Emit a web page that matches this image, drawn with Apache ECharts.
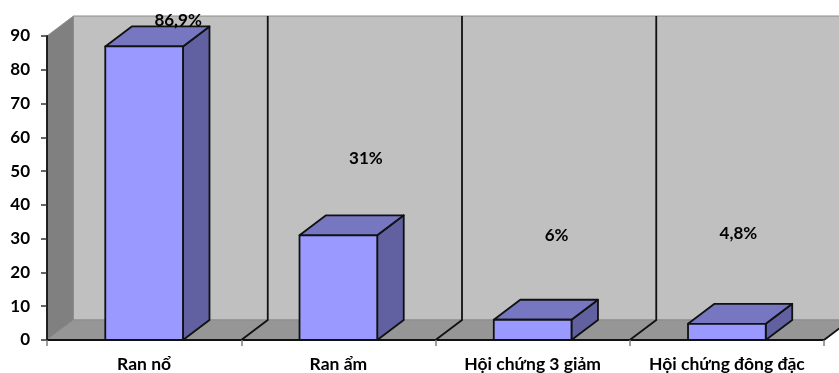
<!DOCTYPE html>
<html>
<head>
<meta charset="utf-8">
<style>
  html, body { margin: 0; padding: 0; background: #fff; }
  #chart { width: 839px; height: 373px; }
</style>
<script src="https://cdn.jsdelivr.net/npm/echarts@6/dist/echarts.min.js"></script>
</head>
<body>
<div id="chart"></div>
<script>
const categories = ['Ran nổ', 'Ran ẩm', 'Hội chứng 3 giảm', 'Hội chứng đông đặc'];
const values = [86.9, 31, 6, 4.8];
const valueLabels = ['86,9%', '31%', '6%', '4,8%'];
const yTicks = [0, 90, 10];

// fake 3D depth, in pixels
const DX = 26.5;
const DY = 20;
// where excel left each label: pixels right of the bar centre, pixels above the front top
const LABEL_OFFSET = [[34, 26], [27.5, 77], [24, 84], [11.5, 90]];

const chart = echarts.init(document.getElementById('chart'));

function backdrop(params, api) {
  const band = api.size([1, 0])[0];
  const left = api.coord([0, 0])[0] - band / 2;
  const right = left + band * categories.length;
  const y0 = api.coord([0, yTicks[0]])[1];
  const y1 = api.coord([0, yTicks[1]])[1];
  const poly = (points, fill, stroke) => ({
    type: 'polygon',
    shape: { points },
    style: { fill, stroke, lineWidth: 1 }
  });
  return {
    type: 'group',
    children: [
      poly([[left + DX, y1 - DY], [right + DX, y1 - DY], [right + DX, y0 - DY], [left + DX, y0 - DY]], '#c0c0c0', '#8c8c8c'),
      poly([[left, y1], [left + DX, y1 - DY], [left + DX, y0 - DY], [left, y0]], '#808080', '#8c8c8c'),
      poly([[left, y0], [left + DX, y0 - DY], [right + DX, y0 - DY], [right, y0]], '#969696', '#8c8c8c')
    ]
  };
}

function divider(params, api) {
  const band = api.size([1, 0])[0];
  const x = api.coord([api.value(0), 0])[0] + band / 2;
  const y0 = api.coord([0, yTicks[0]])[1];
  const y1 = api.coord([0, yTicks[1]])[1];
  return {
    type: 'polyline',
    shape: { points: [[x, y0], [x + DX, y0 - DY], [x + DX, y1 - DY]] },
    style: { fill: null, stroke: '#111', lineWidth: 1.8 }
  };
}

function bar3d(params, api) {
  const band = api.size([1, 0])[0];
  const w = band * 0.4;
  const cx = api.coord([api.value(0), 0])[0];
  const l = cx - w / 2;
  const r = cx + w / 2;
  const y0 = api.coord([0, 0])[1];
  const y = api.coord([0, api.value(1)])[1];
  const edge = { stroke: '#111', lineWidth: 1.8, lineJoin: 'round' };
  return {
    type: 'group',
    children: [
      { type: 'polygon', shape: { points: [[r, y], [r + DX, y - DY], [r + DX, y0 - DY], [r, y0]] }, style: { fill: '#6161a1', ...edge } },
      { type: 'polygon', shape: { points: [[l, y], [l + DX, y - DY], [r + DX, y - DY], [r, y]] }, style: { fill: '#7676c1', ...edge } },
      { type: 'polygon', shape: { points: [[l, y], [r, y], [r, y0], [l, y0]] }, style: { fill: '#9999ff', ...edge } }
    ]
  };
}

function barLabel(params, api) {
  const i = api.value(0);
  const p = api.coord([i, api.value(1)]);
  return {
    type: 'text',
    z2: 50,
    style: {
      x: p[0] + LABEL_OFFSET[i][0],
      y: p[1] - LABEL_OFFSET[i][1],
      text: valueLabels[i],
      align: 'center',
      verticalAlign: 'middle',
      fill: '#000',
      font: 'bold 17px Lato, "Open Sans", sans-serif'
    }
  };
}

const points = values.map((v, i) => [i, v]);
const axisFont = { color: '#000', fontFamily: 'Lato, "Open Sans", sans-serif', fontWeight: 'bold' };

chart.setOption({
  animation: false,
  grid: { left: 47, right: 15, top: 36, bottom: 33, outerBoundsMode: 'none' },
  xAxis: {
    type: 'category',
    data: categories,
    z: 10,
    axisLine: { lineStyle: { color: '#111', width: 1.8 } },
    axisTick: { show: true, alignWithLabel: false, length: 6, lineStyle: { color: '#808080', width: 1.5 } },
    axisLabel: { ...axisFont, fontSize: 17.5, margin: 15, interval: 0 }
  },
  yAxis: {
    type: 'value',
    min: yTicks[0],
    max: yTicks[1],
    interval: yTicks[2],
    z: 10,
    splitLine: { show: false },
    axisLine: { show: true, lineStyle: { color: '#111', width: 1.8 } },
    axisTick: { show: true, length: 6, lineStyle: { color: '#333', width: 1.5 } },
    axisLabel: { ...axisFont, fontSize: 17, margin: 17 }
  },
  series: [
    { type: 'custom', z: 1, silent: true, renderItem: backdrop, data: [[0, 0]] },
    { type: 'custom', z: 2, silent: true, renderItem: divider, data: points },
    { type: 'custom', z: 3, renderItem: bar3d, data: points },
    { type: 'custom', z: 4, silent: true, renderItem: barLabel, data: points }
  ]
});
</script>
</body>
</html>
